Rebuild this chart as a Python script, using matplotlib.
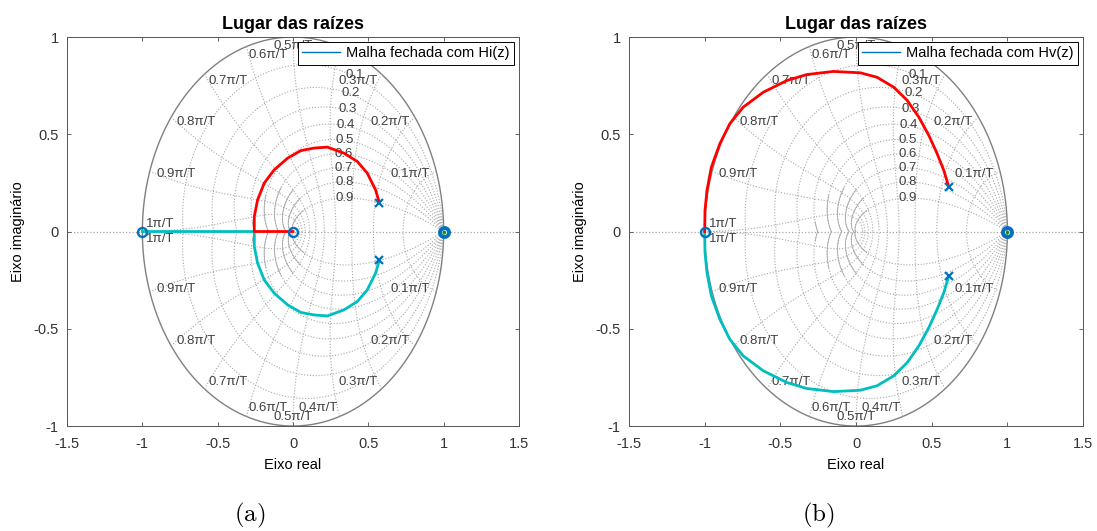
import matplotlib
matplotlib.use('Agg')
import matplotlib.pyplot as plt
import numpy as np
from matplotlib.lines import Line2D

plt.rcParams['font.family'] = ['Liberation Sans', 'DejaVu Sans']
plt.rcParams['axes.unicode_minus'] = False
plt.rcParams['mathtext.fontset'] = 'cm'

# ---- values ----
x_ticks = [-1.5, -1, -0.5, 0, 0.5, 1, 1.5]
x_tick_labels = ['-1.5', '-1', '-0.5', '0', '0.5', '1', '1.5']
y_ticks = [-1, -0.5, 0, 0.5, 1]
y_tick_labels = ['-1', '-0.5', '0', '0.5', '1']

zeta_values = [0.1, 0.2, 0.3, 0.4, 0.5, 0.6, 0.7, 0.8, 0.9]
wn_values = [0.1, 0.2, 0.3, 0.4, 0.5, 0.6, 0.7, 0.8, 0.9, 1.0]   # times pi/T

# (a) closed loop with Hi(z)
hi_poles_re = [0.574, 0.574]
hi_poles_im = [0.146, -0.146]
hi_zeros_re = [-1.0, 0.0]
hi_zeros_im = [0.0, 0.0]
# upper branch, from the pole to the break-in point, then to the zero at 0
hi_branch_re = [0.574, 0.548, 0.493, 0.427, 0.338, 0.228, 0.140, 0.052, -0.036,
                -0.125, -0.191, -0.235, -0.257, -0.257]
hi_branch_im = [0.146, 0.214, 0.300, 0.360, 0.403, 0.434, 0.429, 0.416, 0.377,
                0.317, 0.249, 0.163, 0.077, 0.0]
hi_end_red = 0.0
hi_end_cyan = -1.0

# (b) closed loop with Hv(z)
hv_poles_re = [0.613, 0.613]
hv_poles_im = [0.228, -0.228]
hv_zeros_re = [-1.0]
hv_zeros_im = [0.0]
hv_branch_re = [0.613, 0.580, 0.536, 0.481, 0.415, 0.338, 0.249, 0.139, 0.028,
                -0.149, -0.326, -0.458, -0.613, -0.746, -0.834, -0.900, -0.956,
                -0.985, -0.998, -1.0]
hv_branch_im = [0.228, 0.314, 0.400, 0.494, 0.588, 0.674, 0.742, 0.793, 0.816,
                0.823, 0.807, 0.776, 0.716, 0.639, 0.554, 0.451, 0.331,
                0.211, 0.108, 0.0]

grid_col = '#a8a8a8'
lab_col = '#404040'
dot = (0, (1, 1.6))
blue = '#0072BD'


def draw_zgrid(ax):
    th = np.linspace(0, 2 * np.pi, 500)
    ax.plot(np.cos(th), np.sin(th), color='#808080', lw=1.0, zorder=1)
    ax.axhline(0, color=grid_col, lw=0.9, ls=dot, zorder=1)
    # constant damping curves
    for zeta in zeta_values:
        c = np.sqrt(1 - zeta ** 2)
        t = np.linspace(0, np.pi, 400)
        r = np.exp(-zeta / c * t)
        near = r / c < 0.3
        for s in (1, -1):
            ax.plot(r * np.cos(t), s * r * np.sin(t), color=grid_col, lw=0.8, ls=dot, zorder=1)
            ax.plot(r[near] * np.cos(t[near]), s * r[near] * np.sin(t[near]),
                    color=grid_col, lw=0.6, zorder=1)
        wt = 1.13
        rl = np.exp(-zeta * wt)
        ax.text(rl * np.cos(wt * c) + 0.025, rl * np.sin(wt * c), '%g' % zeta,
                ha='center', va='center', fontsize=9.5, color=lab_col, zorder=2)
    # constant natural frequency curves
    for k in wn_values:
        w = k * np.pi
        phi = np.linspace(np.pi / 2, np.pi, 150)
        r = np.exp(w * np.cos(phi))
        ang = w * np.sin(phi)
        lab = '%gπ/T' % k
        for s in (1, -1):
            ax.plot(r * np.cos(ang), s * r * np.sin(ang), color=grid_col, lw=0.8, ls=dot, zorder=1)
            if k == 1.0:
                ax.text(-0.975, s * 0.01, lab, ha='left', va='bottom' if s > 0 else 'top',
                        fontsize=9.5, color=lab_col, zorder=2)
                continue
            px, py = 0.955 * np.cos(w), s * 0.955 * np.sin(w)
            ha = 'right' if k < 0.5 else ('left' if k > 0.5 else 'center')
            ax.text(px, py, lab, ha=ha, va='center', fontsize=9.5, color=lab_col, zorder=2)


def draw_panel(ax, poles_re, poles_im, zeros_re, zeros_im, br_re, br_im,
               end_red, end_cyan, legend_text, caption, cap_x):
    draw_zgrid(ax)
    br_re = np.array(br_re)
    br_im = np.array(br_im)
    # lower branch is the conjugate of the upper one
    ax.plot(np.append(br_re, end_cyan), np.append(-br_im, 0), color='#00BFBF', lw=2, zorder=3)
    ax.plot(np.append(br_re, end_red), np.append(br_im, 0), color='red', lw=2, zorder=3)
    ax.plot(poles_re, poles_im, ls='none', marker='x', ms=5.5, mew=1.6, color=blue, zorder=4)
    ax.plot(zeros_re, zeros_im, ls='none', marker='o', ms=6.5, mew=1.7, mfc='none', color=blue, zorder=4)
    ax.plot([1.0], [0.0], ls='none', marker='o', ms=6.5, mew=2.8, mfc='none', color=blue, zorder=4)
    ax.plot([1.0], [0.0], ls='none', marker='.', ms=3, color='#1a8a1a', zorder=5)

    ax.set_xlim(-1.5, 1.5)
    ax.set_ylim(-1, 1)
    ax.set_xticks(x_ticks)
    ax.set_xticklabels(x_tick_labels)
    ax.set_yticks(y_ticks)
    ax.set_yticklabels(y_tick_labels)
    ax.tick_params(direction='in', top=True, right=True, length=3, width=0.6,
                   colors='#4d4d4d', labelcolor='#333333', labelsize=10.5)
    ax.tick_params(axis='x', pad=8)
    ax.tick_params(axis='y', pad=6)
    for sp in ax.spines.values():
        sp.set_color('#555555')
        sp.set_linewidth(0.7)
    ax.set_title('Lugar das raízes', fontsize=13, fontweight='bold', pad=6)
    ax.set_xlabel('Eixo real', fontsize=10.5, labelpad=5)
    ax.set_ylabel('Eixo imaginário', fontsize=10.5, labelpad=6)
    leg = ax.legend(handles=[Line2D([], [], color=blue, lw=1)], labels=[legend_text],
                    loc='upper right', fancybox=False, edgecolor='black', framealpha=1,
                    fontsize=10.5, borderaxespad=0.35, handlelength=2.6,
                    borderpad=0.3, handletextpad=0.4)
    leg.get_frame().set_linewidth(0.7)
    leg.set_zorder(10)
    fig.text(cap_x, 0.03, caption, ha='center', va='center', fontsize=18)


fig = plt.figure(figsize=(10.97, 5.31), dpi=100)
ax1 = fig.add_axes([0.0611, 0.1977, 0.412, 0.7326])
ax2 = fig.add_axes([0.5734, 0.1977, 0.4139, 0.7326])

draw_panel(ax1, hi_poles_re, hi_poles_im, hi_zeros_re, hi_zeros_im, hi_branch_re, hi_branch_im,
           hi_end_red, hi_end_cyan, 'Malha fechada com Hi(z)', r'$\mathrm{(a)}$', 250 / 1097)
draw_panel(ax2, hv_poles_re, hv_poles_im, hv_zeros_re, hv_zeros_im, hv_branch_re, hv_branch_im,
           -1.0, -1.0, 'Malha fechada com Hv(z)', r'$\mathrm{(b)}$', 818 / 1097)

fig.savefig('out.png', dpi=100)
